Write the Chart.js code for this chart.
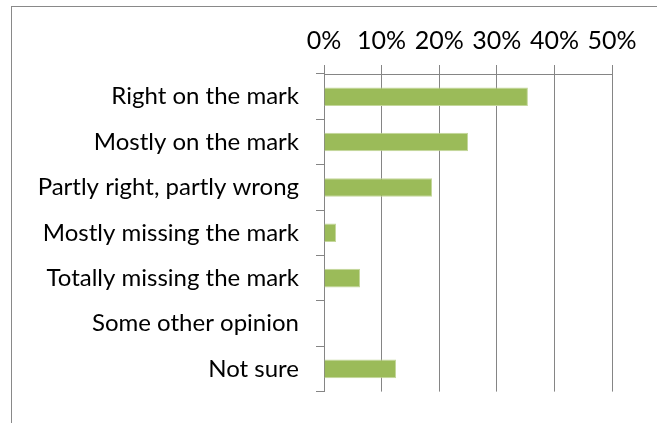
<!DOCTYPE html>
<html lang="en">
  <head>
    <meta charset="UTF-8">
    <title>Survey Bar Chart</title>
    <script src="https://cdn.jsdelivr.net/npm/chart.js"></script>
    <style>
      body { margin: 0; overflow: hidden; background: #fff; }
      #wrap { position: relative; width: 657px; height: 423px; overflow: hidden; }
      #frame {
        position: absolute; left: 11px; top: 6px;
        width: 1000px; height: 1000px;
        border: 1px solid #898989;
      }
      canvas { position: absolute; left: 0; top: 0; }
    </style>
  </head>
  <body>
    <div id="wrap">
      <div id="frame"></div>
      <canvas id="barChart" width="657" height="423"></canvas>
    </div>
    <script>
      var categories = [
        'Right on the mark',
        'Mostly on the mark',
        'Partly right, partly wrong',
        'Mostly missing the mark',
        'Totally missing the mark',
        'Some other opinion',
        'Not sure'
      ];
      // shares (look like counts out of 48)
      var shares = [0.354, 0.25, 0.1875, 0.021, 0.0625, 0, 0.125];
      var tickValues = [0, 0.1, 0.2, 0.3, 0.4, 0.5];

      var ctx = document.getElementById('barChart').getContext('2d');
      Chart.defaults.font.family = 'Lato, sans-serif';
      Chart.defaults.font.size = 24;
      Chart.defaults.color = '#000';

      new Chart(ctx, {
        type: 'bar',
        data: {
          labels: categories,
          datasets: [{
            data: shares,
            backgroundColor: '#9bbb59',
            borderColor: '#c4d79b',
            borderWidth: 1,
            barPercentage: 0.41,
            categoryPercentage: 1
          }]
        },
        options: {
          indexAxis: 'y',
          responsive: false,
          animation: false,
          layout: { padding: { left: 0, right: 45, top: 0, bottom: 27 } },
          plugins: {
            legend: { display: false },
            tooltip: { enabled: false }
          },
          scales: {
            x: {
              position: 'top',
              min: 0,
              max: 0.5,
              afterBuildTicks: function(scale) {
                scale.ticks = tickValues.map(function(v) { return { value: v }; });
              },
              afterFit: function(scale) { scale.height = 74; },
              ticks: {
                padding: 9,
                font: { size: 25 },
                callback: function(v) { return Math.round(v * 100) + '%'; }
              },
              grid: { color: '#858585', lineWidth: 1, tickLength: 9 },
              border: { color: '#858585', width: 1 }
            },
            y: {
              afterFit: function(scale) { scale.width = 324; },
              ticks: { padding: 17 },
              grid: {
                offset: true,
                drawOnChartArea: false,
                color: '#858585',
                tickLength: 8
              },
              border: { color: '#858585', width: 1 }
            }
          }
        }
      });
    </script>
  </body>
</html>
